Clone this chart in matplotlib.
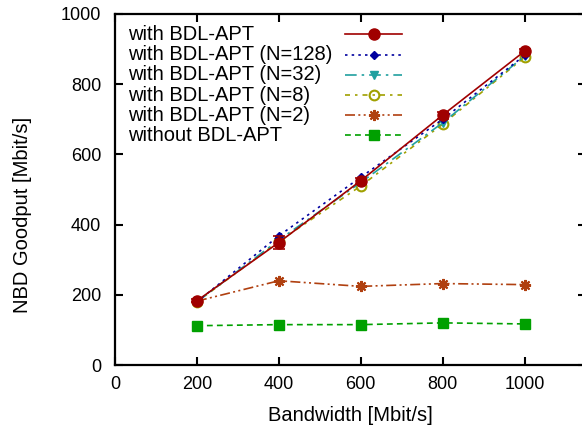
import numpy as np
import matplotlib
matplotlib.use("Agg")
import matplotlib.pyplot as plt

plt.rcParams['font.family'] = ['Liberation Sans', 'DejaVu Sans']

# bandwidth settings [Mbit/s]
bandwidth = [200, 400, 600, 800, 1000]

# NBD goodput [Mbit/s]
bdl_apt = [183, 349, 525, 712, 894]
bdl_apt_err = [4, 18, 9, 10, 6]
bdl_n128 = [180, 368, 535, 700, 882]
bdl_n32 = [180, 356, 520, 690, 880]
bdl_n8 = [180, 352, 510, 686, 877]
bdl_n2 = [182, 240, 224, 232, 229]
no_bdl = [112, 115, 115, 120, 117]

labels = ['with BDL-APT', 'with BDL-APT (N=128)', 'with BDL-APT (N=32)',
          'with BDL-APT (N=8)', 'with BDL-APT (N=2)', 'without BDL-APT']

fig = plt.figure(figsize=(5.82, 4.30), dpi=100)
# right frame sits just outside the canvas
ax = fig.add_axes([115/582, 65/430, 471/582, 351/430])

styles = [
    dict(color='#a00000', ls='-', marker='o', ms=8, mfc='#a00000'),
    dict(color='#0000a0', ls=(0, (1.5, 2.5)), marker='D', ms=4.5, mfc='#0000a0'),
    dict(color='#20a0a0', ls=(0, (7, 3, 1.5, 3)), marker='v', ms=6, mfc='#20a0a0'),
    dict(color='#a0a000', ls=(0, (3, 3, 1.5, 3)), marker='o', ms=7, mfc='none', mew=1.5),
    dict(color='#b04010', ls=(0, (6, 2, 1.2, 2, 1.2, 2)), marker=(8, 2, 0), ms=8, mew=1.5),
    dict(color='#00a000', ls=(0, (3.5, 2.5)), marker='s', ms=7, mfc='#00a000'),
]
series = [bdl_apt, bdl_n128, bdl_n32, bdl_n8, bdl_n2, no_bdl]
zorders = [10, 6, 5, 4, 3, 2]

for y, st, z in zip(series, styles, zorders):
    ax.plot(bandwidth, y, lw=1.2, zorder=z, **st)

ax.errorbar(bandwidth, bdl_apt, yerr=bdl_apt_err, fmt='none',
            ecolor='#a00000', elinewidth=1.2, capsize=4, capthick=1.2, zorder=10)

ax.set_xlim(0, 1150)
ax.set_ylim(0, 1000)
ax.set_xticks([0, 200, 400, 600, 800, 1000])
ax.set_yticks([0, 200, 400, 600, 800, 1000])
ax.tick_params(direction='in', length=6, width=1.5, top=True, right=True,
               labelsize=13, pad=8)
ax.tick_params(axis='y', pad=10)
for sp in ax.spines.values():
    sp.set_linewidth(1.6)

ax.set_xlabel('Bandwidth [Mbit/s]', fontsize=14.5)
ax.set_ylabel('NBD Goodput [Mbit/s]', fontsize=14.5)
ax.xaxis.set_label_coords(0.5, -0.145)
ax.yaxis.set_label_coords(-0.197, 0.427)
ax.xaxis.label.set_va('center')
ax.yaxis.label.set_va('center')

# key: labels left-aligned, line samples in a column to their right
y0, dy = 0.9416, 0.0575
for i, (lab, st) in enumerate(zip(labels, styles)):
    yy = y0 - i * dy
    ax.text(0.0276, yy, lab, transform=ax.transAxes, fontsize=14.5,
            va='center', ha='left')
    kw = dict(st)
    mk = kw.pop('marker')
    ms = kw.pop('ms')
    mfc = kw.pop('mfc', None)
    mew = kw.pop('mew', None)
    ax.plot([0.488, 0.609], [yy, yy], transform=ax.transAxes, lw=1.2,
            color=kw['color'], ls=kw['ls'], clip_on=False)
    ax.plot([0.549], [yy], transform=ax.transAxes, ls='none', marker=mk,
            ms=ms, color=kw['color'], clip_on=False,
            **({'mfc': mfc} if mfc is not None else {}),
            **({'mew': mew} if mew is not None else {}))

fig.savefig('out.png', dpi=100)
